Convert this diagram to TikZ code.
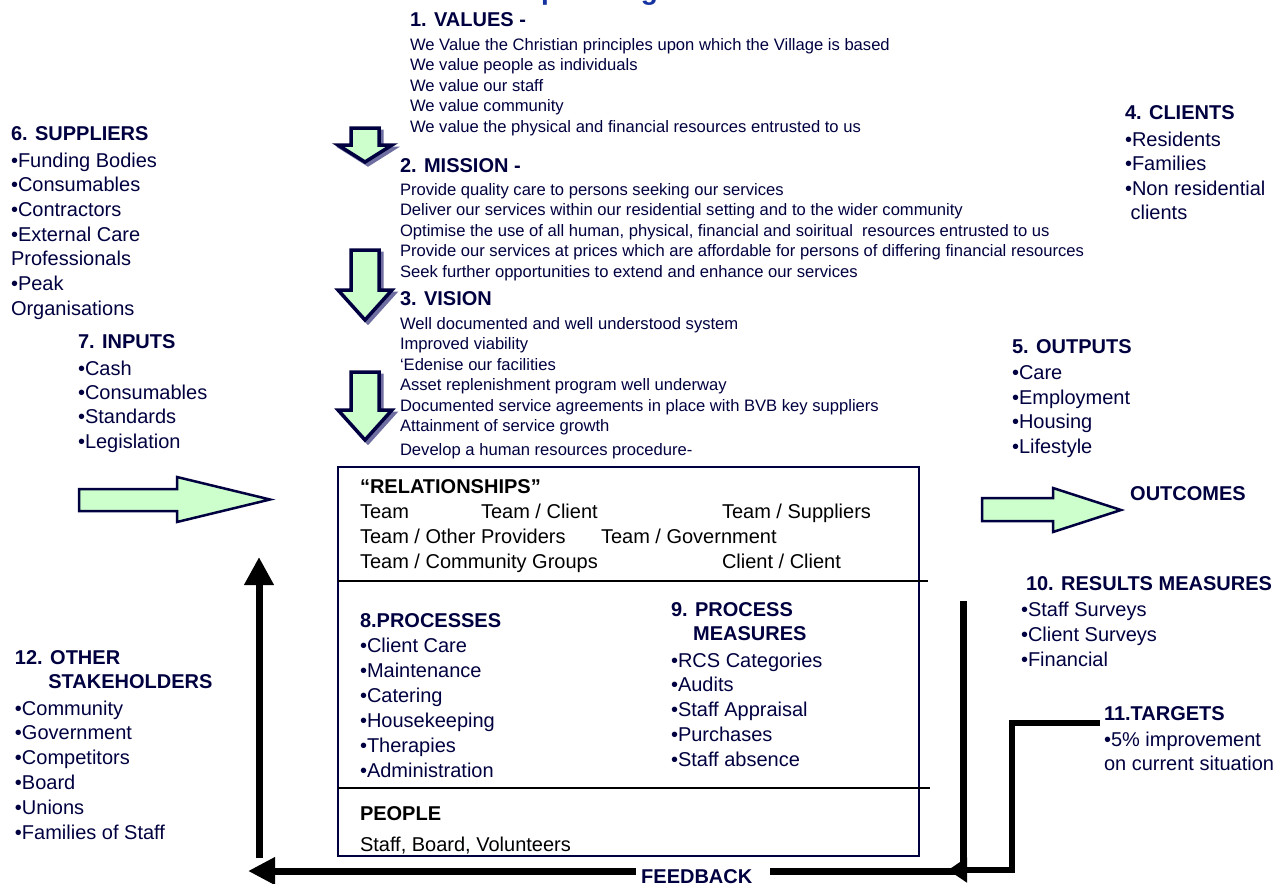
\documentclass[tikz,border=0pt]{standalone}
\usepackage{fontspec}
\setmainfont{Liberation Sans}
\usetikzlibrary{arrows.meta}
\definecolor{navy}{RGB}{0,0,64}
\definecolor{titleblue}{RGB}{20,50,160}
\definecolor{lgreen}{RGB}{204,255,204}
\definecolor{shadowc}{RGB}{110,110,160}
\newcommand\dnarr[4]{%
  \draw[shadowarrow] ({#1-14+3},{#2+3}) -- ({#1+14+3},{#2+3}) -- ({#1+14+3},{#3+3}) -- ({#1+27+3},{#3+3}) -- ({#1+3},{#4+3}) -- ({#1-27+3},{#3+3}) -- ({#1-14+3},{#3+3}) -- cycle;
  \draw[greenarrow, line width=3.5pt] ({#1-14},{#2}) -- ({#1+14},{#2}) -- ({#1+14},{#3}) -- ({#1+27},{#3}) -- ({#1},{#4}) -- ({#1-27},{#3}) -- ({#1-14},{#3}) -- cycle;}
\begin{document}
\begin{tikzpicture}[x=1pt,y=-1pt,
  txt/.style={anchor=north west, inner sep=0pt, outer sep=0pt, align=left, text=navy},
  bodytxt/.style={txt, font=\fontsize{16.6}{20.5}\selectfont},
  listtxt/.style={txt, font=\fontsize{20}{24.7}\selectfont},
  headtxt/.style={txt, font=\bfseries\fontsize{20}{24}\selectfont},
  reltxt/.style={anchor=base west, inner sep=0pt, outer sep=0pt, text=black, font=\fontsize{20}{24}\selectfont},
  greenarrow/.style={fill=lgreen, draw=navy, line width=2.5pt, line join=miter},
  shadowarrow/.style={fill=shadowc, draw=shadowc, line width=3pt},
  fbline/.style={line width=7pt, draw=black},
  bigtip/.style={-{Triangle[length=28pt,width=28pt]}},
  smalltip/.style={-{Triangle[length=19pt,width=24pt]}},
]
\fill[white] (0,0) rectangle (1278,884);
\useasboundingbox (0,0) rectangle (1278,884);

% title fragment (cut off at the top)
\begin{scope}
\clip (0,0) rectangle (1278,884);
\node[anchor=base west, inner sep=0pt, text=titleblue, font=\bfseries\fontsize{28}{30}\selectfont] (title) at (541,-1) {planning};
\end{scope}

% values / mission / vision
\node[headtxt] (valH) at (410,13) {1. VALUES -};
\node[bodytxt] (valT) at (410,38) {We Value the Christian principles upon which the Village is based\\We value people as individuals\\We value our staff\\We value community\\We value the physical and financial resources entrusted to us};
\node[headtxt] (misH) at (400,159) {2. MISSION -};
\node[bodytxt] (misT) at (400,183) {Provide quality care to persons seeking our services\\Deliver our services within our residential setting and to the wider community\\Optimise the use of all human, physical, financial and soiritual~ resources entrusted to us\\Provide our services at prices which are affordable for persons of differing financial resources\\Seek further opportunities to extend and enhance our services};
\node[headtxt] (visH) at (400,292) {3. VISION};
\node[bodytxt] (visT) at (400,317) {Well documented and well understood system\\Improved viability\\‘Edenise our facilities\\Asset replenishment program well underway\\Documented service agreements in place with BVB key suppliers\\Attainment of service growth\\[3.5pt]Develop a human resources procedure-};

\dnarr{365}{128}{145}{162}
\dnarr{365}{250}{290}{320}
\dnarr{365}{372}{410}{440}

% suppliers, inputs
\node[headtxt] (supH) at (11,127) {6. SUPPLIERS};
\node[listtxt] (supT) at (11,152.6) {•Funding Bodies\\•Consumables\\•Contractors\\•External Care\\Professionals\\•Peak\\Organisations};
\node[headtxt] (inpH) at (78,335) {7. INPUTS};
\node[listtxt, font=\fontsize{20}{24.4}\selectfont] (inpT) at (78,360.6) {•Cash\\•Consumables\\•Standards\\•Legislation};

% clients, outputs
\node[headtxt] (cliH) at (1125,106) {4. CLIENTS};
\node[listtxt, font=\fontsize{20}{24.6}\selectfont] (cliT) at (1125,131.6) {•Residents\\•Families\\•Non residential\\\hspace*{5.6pt}clients};
\node[headtxt] (outH) at (1012,340) {5. OUTPUTS};
\node[listtxt] (outT) at (1012,365.6) {•Care\\•Employment\\•Housing\\•Lifestyle};

% input / output block arrows
\draw[greenarrow] (79,489) -- (177,489) -- (177,477) -- (270,499.5) -- (177,522) -- (177,511) -- (79,511) -- cycle;
\draw[greenarrow] (982,498) -- (1053,498) -- (1053,488) -- (1121,510) -- (1053,532) -- (1053,521) -- (982,521) -- cycle;
\node[anchor=base west, inner sep=0pt, text=navy, font=\bfseries\fontsize{20}{24}\selectfont] (outc) at (1130,500) {OUTCOMES};

% central box
\draw[navy, line width=2.5pt] (338,467) rectangle (919,856);
\draw[black, line width=1.5pt] (338,581) -- (928,581);
\draw[black, line width=1.5pt] (338,788) -- (930,788);

\node[reltxt, font=\bfseries\fontsize{20}{24}\selectfont] (relH) at (360,493) {“RELATIONSHIPS”};
\node[reltxt] (r1a) at (360,518) {Team};
\node[reltxt] (r1b) at (481,518) {Team / Client};
\node[reltxt] (r1c) at (722,518) {Team / Suppliers};
\node[reltxt] (r2a) at (360,543) {Team / Other Providers};
\node[reltxt] (r2b) at (601,543) {Team / Government};
\node[reltxt] (r3a) at (360,568) {Team / Community Groups};
\node[reltxt] (r3b) at (722,568) {Client / Client};

\node[headtxt] (proH) at (360,614) {8.PROCESSES};
\node[listtxt, font=\fontsize{20}{25}\selectfont] (proT) at (360,637.6) {•Client Care\\•Maintenance\\•Catering\\•Housekeeping\\•Therapies\\•Administration};
\node[headtxt] (pmH) at (671,603) {9. PROCESS\\\hspace*{22.2pt}MEASURES};
\node[listtxt, font=\fontsize{20}{24.8}\selectfont] (pmT) at (671,652.6) {•RCS Categories\\•Audits\\•Staff Appraisal\\•Purchases\\•Staff absence};

\node[reltxt, font=\bfseries\fontsize{20}{24}\selectfont] (peoH) at (360,820) {PEOPLE};
\node[reltxt] (peoT) at (360,851) {Staff, Board, Volunteers};

% results, targets, stakeholders
\node[headtxt] (resH) at (1026,577) {10. RESULTS MEASURES};
\node[listtxt, font=\fontsize{20}{25}\selectfont] (resT) at (1021,601.6) {•Staff Surveys\\•Client Surveys\\•Financial};
\node[headtxt] (tarH) at (1104,707) {11.TARGETS};
\node[listtxt, font=\fontsize{20}{24}\selectfont] (tarT) at (1104,731.6) {•5\% improvement\\on current situation};
\node[headtxt] (othH) at (15,651) {12. OTHER\\\hspace*{33.4pt}STAKEHOLDERS};
\node[listtxt, font=\fontsize{20}{24.8}\selectfont] (othT) at (15,700.6) {•Community\\•Government\\•Competitors\\•Board\\•Unions\\•Families of Staff};

% feedback loop
\node[anchor=base west, inner sep=0pt, text=navy, font=\bfseries\fontsize{20}{24}\selectfont] (fbk) at (641,883) {FEEDBACK};
\coordinate (lowL) at (259,858);
\coordinate (topL) at (259,557);
\coordinate (topR) at (963,601);
\coordinate (gapR) at (770,871);
\coordinate (gapL) at (636,871);
\coordinate (endL) at (248,871);
\draw[fbline, bigtip] (lowL) -- (topL);
\draw[fbline] (topR) |- (gapR);
\draw[fbline, -{Triangle[length=27pt,width=26pt]}] (gapL) -- (endL);
\coordinate (tg1) at (1100,723);
\coordinate (tg2) at (1012,723);
\coordinate (tg3) at (1012,870);
\coordinate (tg4) at (948,870);
\draw[line width=6pt, black, smalltip] (tg1) -- (tg2) -- (tg3) -- (tg4);
\end{tikzpicture}
\end{document}
